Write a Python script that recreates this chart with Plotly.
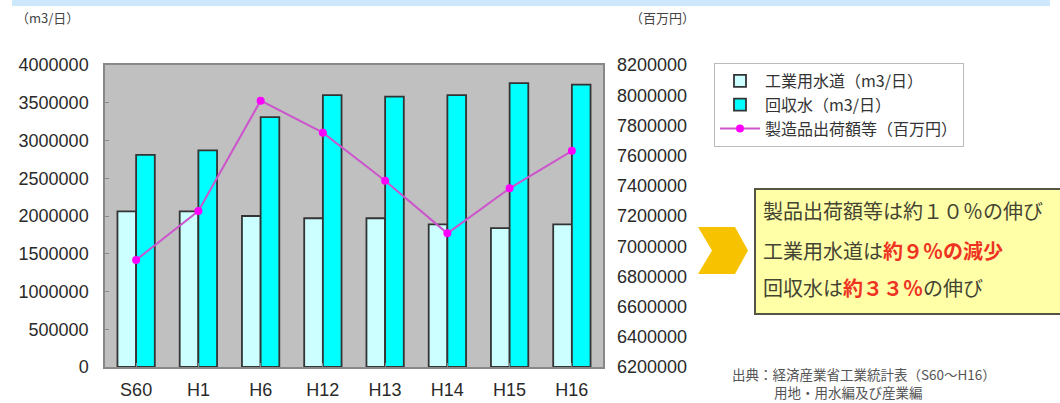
import plotly.graph_objects as go

categories = ["S60", "H1", "H6", "H12", "H13", "H14", "H15", "H16"]
industrial_water = [2060000, 2060000, 2000000, 1970000, 1970000, 1890000, 1840000, 1890000]
recycled_water = [2810000, 2870000, 3310000, 3600000, 3580000, 3600000, 3760000, 3740000]
shipments = [6909000, 7233000, 7964000, 7752000, 7434000, 7085000, 7383000, 7632000]

left_ticks = [0, 500000, 1000000, 1500000, 2000000, 2500000, 3000000, 3500000, 4000000]
right_ticks = [6200000 + 200000 * i for i in range(11)]

W, H = 1060, 403
PL, PR, PT, PB = 105, 603, 65, 367


def px(x):
    return (x - PL) / (PR - PL)


def py(y):
    return (PB - y) / (PB - PT)


FONT = "Arial, Liberation Sans, sans-serif"
JFONT = "Noto Sans CJK JP, sans-serif"
TICKC = "#2A2A2A"

fig = go.Figure()
fig.add_trace(go.Bar(
    x=categories, y=industrial_water, name="工業用水道（m3/日）",
    marker=dict(color="#CCFFFF", line=dict(color="#333333", width=1.8)),
))
fig.add_trace(go.Bar(
    x=categories, y=recycled_water, name="回収水（m3/日）",
    marker=dict(color="#00FFFF", line=dict(color="#333333", width=1.8)),
))
fig.add_trace(go.Scatter(
    x=categories, y=shipments, name="製造品出荷額等（百万円）", yaxis="y2",
    mode="lines+markers",
    line=dict(color="#CC55CC", width=2),
    marker=dict(color="#FF00FF", size=8, symbol="circle"),
))

fig.update_layout(
    width=W, height=H,
    margin=dict(l=PL, r=W - PR, t=PT, b=H - PB, autoexpand=False),
    paper_bgcolor="white", plot_bgcolor="#C0C0C0",
    barmode="group", bargap=0.4, bargroupgap=0,
    showlegend=True,
    legend=dict(
        x=px(714), y=py(63), xanchor="left", yanchor="top",
        bgcolor="white", bordercolor="#BBBBBB", borderwidth=1,
        font=dict(family=JFONT, size=16, color="#333333"),
        tracegroupgap=0, itemwidth=40,
    ),
    xaxis=dict(
        automargin=False,
        showline=True, linecolor="#888888", linewidth=1.5, mirror=True,
        ticks="inside", ticklen=4, tickcolor="#888888",
        tickfont=dict(family=FONT, size=18, color=TICKC),
        ticklabelstandoff=6, showgrid=False,
    ),
    yaxis=dict(
        automargin=False,
        range=[0, 4000000], tickvals=left_ticks,
        ticktext=[str(v) for v in left_ticks],
        showline=True, linecolor="#888888", linewidth=1.5, mirror=True,
        ticks="inside", ticklen=4, tickcolor="#888888",
        tickfont=dict(family=FONT, size=18, color=TICKC),
        ticklabelstandoff=11, showgrid=False, zeroline=False,
    ),
    yaxis2=dict(
        automargin=False,
        range=[6200000, 8200000], tickvals=right_ticks,
        ticktext=[str(v) for v in right_ticks],
        overlaying="y", side="right",
        showline=False, ticks="", showgrid=False, zeroline=False,
        tickfont=dict(family=FONT, size=18, color=TICKC),
        ticklabelstandoff=13,
    ),
)

shapes = [
    # top light-blue band
    dict(type="rect", xref="paper", yref="paper", x0=px(12), x1=px(1050), y0=py(0), y1=py(6),
         fillcolor="#CCE8FA", line=dict(width=0), layer="below"),
    # yellow summary box
    dict(type="rect", xref="paper", yref="paper", x0=px(755), x1=px(1064), y0=py(189), y1=py(314),
         fillcolor="#FFFFA8", line=dict(color="#555544", width=2)),
    # chevron arrow
    dict(type="path", xref="paper", yref="paper",
         path="M {a},{b} L {c},{b} L {d},{e} L {c},{f} L {a},{f} L {g},{e} Z".format(
             a=px(698), b=py(227), c=px(735), d=px(748), e=py(250.5), f=py(274), g=px(712)),
         fillcolor="#F7C300", line=dict(width=0)),
]
fig.update_layout(shapes=shapes)

red = "#EE3322"
anns = [
    dict(text="（m3/日）", x=px(14), y=py(17), xanchor="left", yanchor="middle",
         font=dict(family=JFONT, size=13, color="#444444")),
    dict(text="（百万円）", x=px(628), y=py(17), xanchor="left", yanchor="middle",
         font=dict(family=JFONT, size=13, color="#444444")),
    dict(text="製品出荷額等は約１０％の伸び", x=px(761), y=py(210), xanchor="left", yanchor="middle",
         font=dict(family=JFONT, size=20, color="#444433")),
    dict(text="工業用水道は<span style='color:%s'><b>約９％の減少</b></span>" % red,
         x=px(761), y=py(250), xanchor="left", yanchor="middle",
         font=dict(family=JFONT, size=20, color="#444433")),
    dict(text="回収水は<span style='color:%s'><b>約３３％</b></span>の伸び" % red,
         x=px(761), y=py(287), xanchor="left", yanchor="middle",
         font=dict(family=JFONT, size=20, color="#444433")),
    dict(text="出典：経済産業省工業統計表（S60～H16）", x=px(730), y=py(374), xanchor="left", yanchor="middle",
         font=dict(family=JFONT, size=13.5, color="#555555")),
    dict(text="用地・用水編及び産業編", x=px(772), y=py(392), xanchor="left", yanchor="middle",
         font=dict(family=JFONT, size=13.5, color="#555555")),
]
for a in anns:
    a.update(xref="paper", yref="paper", showarrow=False)
fig.update_layout(annotations=anns)

fig.write_html(
    "out.html",
    config={"displayModeBar": False},
    post_script="document.body.style.margin='0';document.body.style.padding='0';",
)
